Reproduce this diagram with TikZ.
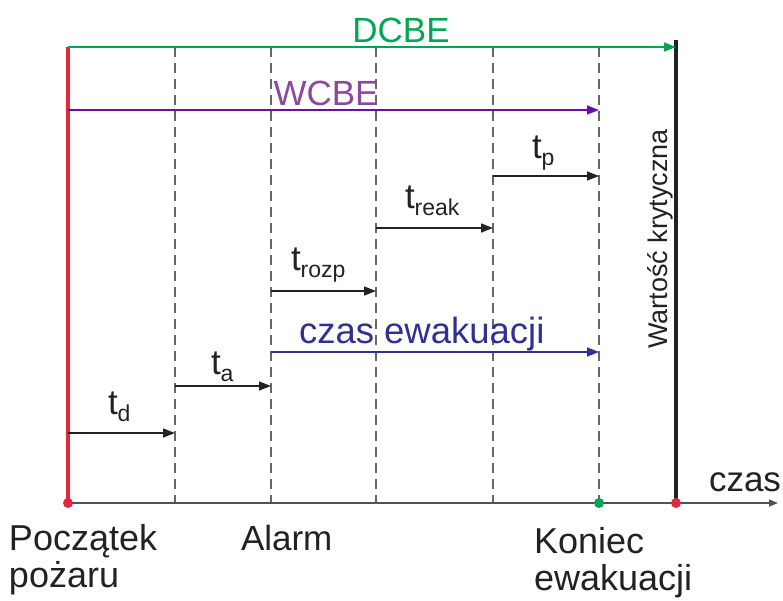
\documentclass[tikz,border=0pt]{standalone}
\usepackage{fontspec}
\setmainfont{Liberation Sans}
\usetikzlibrary{arrows.meta}

\definecolor{firered}{HTML}{E8243F}
\definecolor{dcbegreen}{HTML}{00A651}
\definecolor{wcbeline}{HTML}{6A0DAD}
\definecolor{wcbetext}{HTML}{8A4A9C}
\definecolor{evacblue}{HTML}{2E3192}
\definecolor{inkgray}{HTML}{222222}
\definecolor{gridgray}{HTML}{666666}

\newcommand\tsub[1]{\raisebox{-7pt}{\fontsize{23}{23}\selectfont #1}}

\begin{document}
\begin{tikzpicture}[x=1pt,y=-1pt,
  lbl/.style={inner sep=0pt,outer sep=0pt,text=inkgray,font=\fontsize{35}{35}\selectfont},
  biglbl/.style={lbl,font=\fontsize{36}{36}\selectfont},
  phase/.style={draw=inkgray,line width=1.4pt,-{Triangle[length=12pt,width=9pt]}},
  guide/.style={draw=gridgray,line width=1.2pt,dash pattern=on 10pt off 6pt},
  marker/.style={circle,inner sep=0pt,minimum size=10pt}]

\useasboundingbox (0,0) rectangle (783,600);

% time instants on the axis and along the top
\foreach \n/\x in {s/68,d/175,a/271,r/376,k/493,e/599,c/676}{
  \coordinate (top\n) at (\x,47);
  \coordinate (ax\n) at (\x,503);
}
\coordinate (axend) at (778,503);
\coordinate (crittop) at (676,40);

% dashed guides
\foreach \n in {d,a,r,k,e}{
  \draw[guide] (top\n) -- (ax\n);
}

% time axis
\draw[draw=gridgray!80!black,line width=1.4pt,-{Triangle[length=9pt,width=7pt]}] (axs) -- (axend);

% fire start and critical value lines
\draw[firered,line width=3.5pt] (tops) -- (axs);
\draw[inkgray,line width=4pt] (crittop) -- (axc);

% DCBE and WCBE
\draw[dcbegreen,line width=1.6pt,-{Triangle[length=12pt,width=9pt]}] (tops) -- (topc);
\coordinate (ws) at (68,110);
\coordinate (we) at (599,110);
\draw[wcbeline,line width=1.6pt,-{Triangle[length=12pt,width=9pt]}] (ws) -- (we);
\node[lbl,text=dcbegreen,anchor=base] (dcbe) at (401,42) {DCBE};
\node[lbl,text=wcbetext,anchor=base] (wcbe) at (326,105) {WCBE};

% component times
\coordinate (td0) at (68,433);  \coordinate (td1) at (175,433);
\coordinate (ta0) at (175,386); \coordinate (ta1) at (271,386);
\coordinate (tr0) at (271,291); \coordinate (tr1) at (376,291);
\coordinate (tk0) at (376,228); \coordinate (tk1) at (493,228);
\coordinate (tp0) at (493,176); \coordinate (tp1) at (599,176);
\draw[phase] (td0) -- (td1);
\draw[phase] (ta0) -- (ta1);
\draw[phase] (tr0) -- (tr1);
\draw[phase] (tk0) -- (tk1);
\draw[phase] (tp0) -- (tp1);
\node[lbl,anchor=base west] (ltd) at (108,414) {t\tsub{d}};
\node[lbl,anchor=base west] (lta) at (211,374) {t\tsub{a}};
\node[lbl,anchor=base west] (ltr) at (291,270) {t\tsub{rozp}};
\node[lbl,anchor=base west] (ltk) at (405,208) {t\tsub{reak}};
\node[lbl,anchor=base west] (ltp) at (532,158) {t\tsub{p}};

% evacuation time
\coordinate (ev0) at (271,352); \coordinate (ev1) at (599,352);
\draw[evacblue,line width=1.6pt,-{Triangle[length=12pt,width=9pt]}] (ev0) -- (ev1);
\node[lbl,text=evacblue,anchor=base west,font=\fontsize{36.5}{36.5}\selectfont] (evac) at (299,343) {czas ewakuacji};

% critical value label
\node[lbl,anchor=base,rotate=90,font=\fontsize{27}{27}\selectfont] (crit) at (667,239) {Wartość krytyczna};

% markers on the axis
\node[marker,fill=firered] (m1) at (axs) {};
\node[marker,fill=dcbegreen] (m2) at (axe) {};
\node[marker,fill=firered] (m3) at (axc) {};

% axis labels
\node[lbl,anchor=base west] (czas) at (709,491) {czas};
\node[biglbl,anchor=base west] (start1) at (9,550) {Początek};
\node[biglbl,anchor=base west] (start2) at (9,587) {pożaru};
\node[lbl,anchor=base west] (alarm) at (241,550) {Alarm};
\node[biglbl,anchor=base west] (end1) at (534,553) {Koniec};
\node[biglbl,anchor=base west] (end2) at (534,590) {ewakuacji};

\end{tikzpicture}
\end{document}
